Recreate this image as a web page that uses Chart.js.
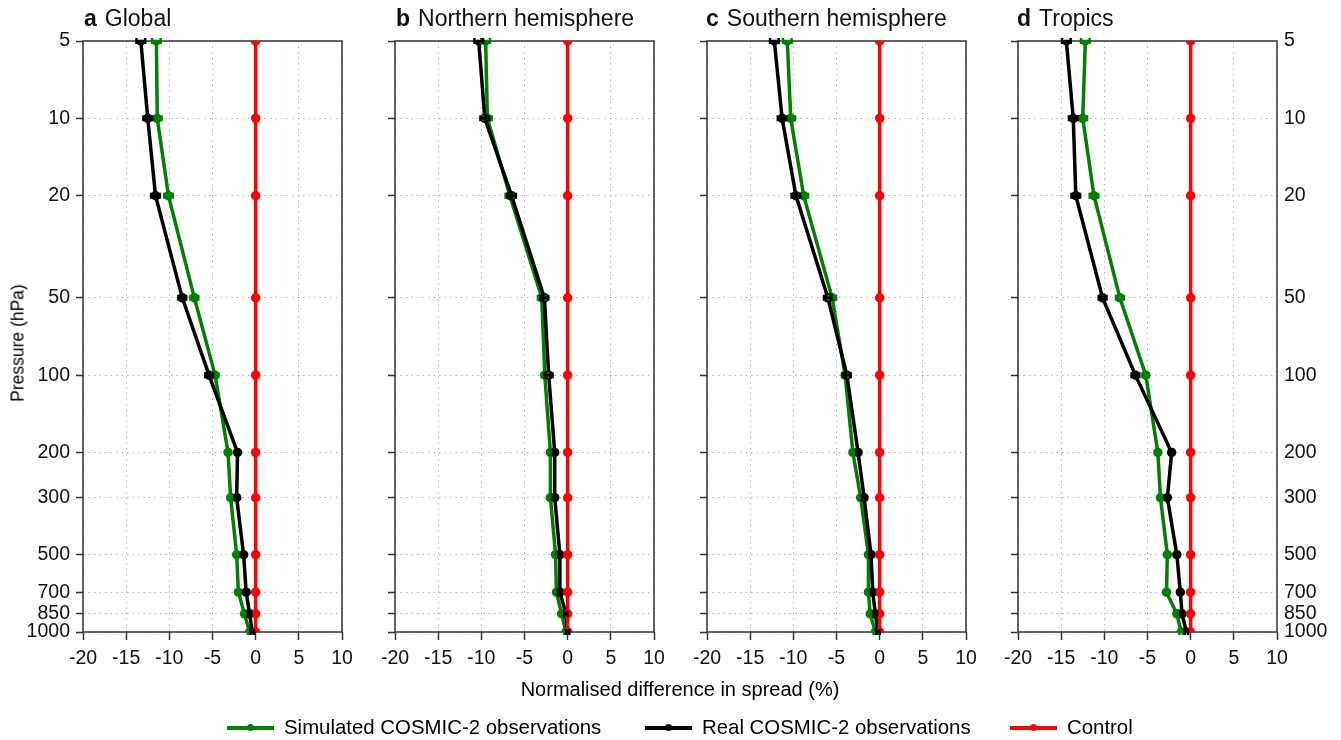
<!DOCTYPE html>
<html>
<head>
<meta charset="utf-8">
<script src="https://cdn.jsdelivr.net/npm/chart.js@4.4.1/dist/chart.umd.min.js"></script>
<style>
  body { margin: 0; background: #fff; font-family: 'Liberation Sans', Arial, sans-serif; }
  #wrap { position: relative; width: 1341px; height: 740px; overflow: hidden; }
  #wrap canvas { position: absolute; left: 0; top: 0; }
  .title { position: absolute; top: 5px; font-size: 23px; color: #111; white-space: nowrap; }
  .title b { margin-right: 8px; }
  .ylab { position: absolute; left: 18px; top: 343px; font-size: 17.5px; transform: translate(-50%, -50%) rotate(-90deg); white-space: nowrap; }
  .xlab { position: absolute; left: 680px; top: 689px; font-size: 20px; transform: translate(-50%, -50%); white-space: nowrap; }
  .leg { position: absolute; top: 716px; font-size: 20.4px; white-space: nowrap; display: flex; align-items: center; }
  .leg i { display: inline-block; position: relative; width: 47px; height: 4px; margin-right: 10px; }
  .leg i::after { content: ''; position: absolute; left: 20px; top: -1.5px; width: 7px; height: 7px; border-radius: 50%; background: inherit; }
</style>
</head>
<body>
<div id="wrap">
  <canvas id="c0" width="1341" height="740"></canvas>
  <canvas id="c1" width="1341" height="740"></canvas>
  <canvas id="c2" width="1341" height="740"></canvas>
  <canvas id="c3" width="1341" height="740"></canvas>
  <div class="title" style="left:84px"><b>a</b>Global</div>
  <div class="title" style="left:396px"><b>b</b>Northern hemisphere</div>
  <div class="title" style="left:706px"><b>c</b>Southern hemisphere</div>
  <div class="title" style="left:1017px"><b>d</b>Tropics</div>
  <div class="ylab">Pressure (hPa)</div>
  <div class="xlab">Normalised difference in spread (%)</div>
  <div class="leg" style="left:227px"><i style="background:#008000"></i>Simulated COSMIC-2 observations</div>
  <div class="leg" style="left:645px"><i style="background:#000"></i>Real COSMIC-2 observations</div>
  <div class="leg" style="left:1010px"><i style="background:#ff0000"></i>Control</div>
</div>
<script>
/* ── DATA ─────────────────────────────────────────────────── */
const levels   = [5, 10, 20, 50, 100, 200, 300, 500, 700, 850, 1000];
const xTicks   = [-20, -15, -10, -5, 0, 5, 10];

// simulated (green) and real (black) COSMIC-2, per panel
const simGlobal   = [-11.5, -11.4, -10.1, -7.1, -4.7, -3.2, -2.9, -2.2, -2.0, -1.3, -0.7];
const realGlobal  = [-13.3, -12.5, -11.6, -8.5, -5.4, -2.1, -2.2, -1.4, -1.1, -0.7, -0.4];
const simNorth    = [-9.5, -9.3, -6.7, -3.0, -2.65, -2.0, -2.0, -1.4, -1.3, -0.7, -0.2];
const realNorth   = [-10.3, -9.6, -6.5, -2.7, -2.2, -1.5, -1.5, -0.9, -0.9, -0.2, 0.0];
const simSouth    = [-10.7, -10.3, -8.8, -5.5, -4.0, -3.1, -2.2, -1.3, -1.3, -1.1, -0.5];
const realSouth   = [-12.2, -11.3, -9.7, -6.0, -3.8, -2.5, -1.8, -1.0, -0.8, -0.5, -0.2];
const simTropics  = [-12.2, -12.5, -11.2, -8.2, -5.2, -3.8, -3.5, -2.7, -2.8, -1.6, -1.1];
const realTropics = [-14.4, -13.6, -13.3, -10.2, -6.4, -2.2, -2.7, -1.6, -1.2, -1.0, -0.5];
const control     = [0, 0, 0, 0, 0, 0, 0, 0, 0, 0, 0];

// half-width of the error bars
const errSim  = [0.5, 0.5, 0.5, 0.45, 0.35, 0.2, 0.2, 0.2, 0.2, 0.2, 0.2];
const errReal = [0.5, 0.5, 0.5, 0.45, 0.45, 0.2, 0.2, 0.2, 0.2, 0.2, 0.2];

const panels = [
  { sim: simGlobal,  real: realGlobal,  left: 83 },
  { sim: simNorth,   real: realNorth,   left: 395 },
  { sim: simSouth,   real: realSouth,   left: 707 },
  { sim: simTropics, real: realTropics, left: 1018 },
];

const PLOT_W = 259, PLOT_TOP = 41, PLOT_BOTTOM = 632;
const W = 1341, H = 740;
const FONT = { family: "'Liberation Sans', Arial, sans-serif", size: 19.5 };

/* ── PLUGIN: frame + error bars ───────────────────────────── */
const extras = {
  id: 'extras',
  beforeDatasetsDraw(chart) {
    const { ctx, chartArea: a } = chart;
    ctx.save();
    ctx.strokeStyle = '#333';
    ctx.lineWidth = 1.5;
    ctx.strokeRect(a.left, a.top, a.right - a.left, a.bottom - a.top);
    ctx.restore();
  },
  afterDatasetsDraw(chart) {
    const { ctx, scales } = chart;
    chart.data.datasets.forEach(ds => {
      if (!ds.err) return;
      ctx.save();
      ctx.strokeStyle = ds.borderColor;
      ctx.lineWidth = 2.5;
      ds.data.forEach((p, i) => {
        const y  = scales.y.getPixelForValue(p.y);
        const x1 = scales.x.getPixelForValue(p.x - ds.err[i]);
        const x2 = scales.x.getPixelForValue(p.x + ds.err[i]);
        ctx.beginPath();
        ctx.moveTo(x1, y); ctx.lineTo(x2, y);
        ctx.moveTo(x1, y - 3); ctx.lineTo(x1, y + 3);
        ctx.moveTo(x2, y - 3); ctx.lineTo(x2, y + 3);
        ctx.stroke();
      });
      ctx.restore();
    });
  }
};

/* ── PANELS ───────────────────────────────────────────────── */
function series(values, color, order, err) {
  return {
    data            : values.map((v, i) => ({ x: v, y: levels[i] })),
    borderColor     : color,
    backgroundColor : color,
    borderWidth     : 3.5,
    pointRadius     : 3,
    showLine        : true,
    order,
    err,
  };
}

function yScale(position, showLabels, width) {
  return {
    type     : 'logarithmic',
    position,
    reverse  : true,
    min      : 5,
    max      : 1000,
    afterBuildTicks: s => { s.ticks = levels.map(v => ({ value: v })); },
    afterFit : s => { s.width = width; },
    ticks    : {
      display : showLabels,
      callback: v => String(v),
      color   : '#111',
      font    : FONT,
      padding : position === 'right' ? 7 : 6,
      autoSkip: false,
    },
    grid: {
      drawOnChartArea: position === 'left',
      drawTicks      : position === 'left',
      color          : '#b0b0b0',
      tickLength     : 7,
      tickColor      : '#333',
      tickWidth      : 1.5,
      tickBorderDash : [],
    },
    border: { display: false, dash: [1.5, 4] },
  };
}

panels.forEach((p, k) => {
  const isFirst = k === 0, isLast = k === panels.length - 1;
  const yW = isFirst ? 70 : 7;
  const rightW = isLast ? 64 : 0;

  const scales = {
    x: {
      type : 'linear',
      min  : -20,
      max  : 10,
      afterBuildTicks: s => { s.ticks = xTicks.map(v => ({ value: v })); },
      afterFit: s => { s.height = 40; },
      ticks: { color: '#111', font: FONT, padding: 7, autoSkip: false, maxRotation: 0 },
      grid : {
        color         : '#b0b0b0',
        tickLength    : 8,
        tickColor     : '#333',
        tickWidth     : 1.5,
        tickBorderDash: [],
      },
      border: { display: false, dash: [1.5, 4] },
    },
    y: yScale('left', isFirst, yW),
  };
  if (isLast) scales.y2 = yScale('right', true, rightW);

  new Chart(document.getElementById('c' + k), {
    type: 'scatter',
    data: {
      datasets: [
        series(p.sim, '#008000', 2, errSim),
        series(p.real, '#000000', 1, errReal),
        series(control, '#ff0000', 0, null),
      ]
    },
    options: {
      responsive: false,
      animation : false,
      devicePixelRatio: 1,
      layout: {
        padding: {
          left  : p.left - yW,
          right : W - (p.left + PLOT_W) - rightW,
          top   : PLOT_TOP,
          bottom: H - PLOT_BOTTOM - 40,
        }
      },
      scales,
      plugins: { legend: { display: false }, tooltip: { enabled: false } },
    },
    plugins: [extras],
  });
});
</script>
</body>
</html>
